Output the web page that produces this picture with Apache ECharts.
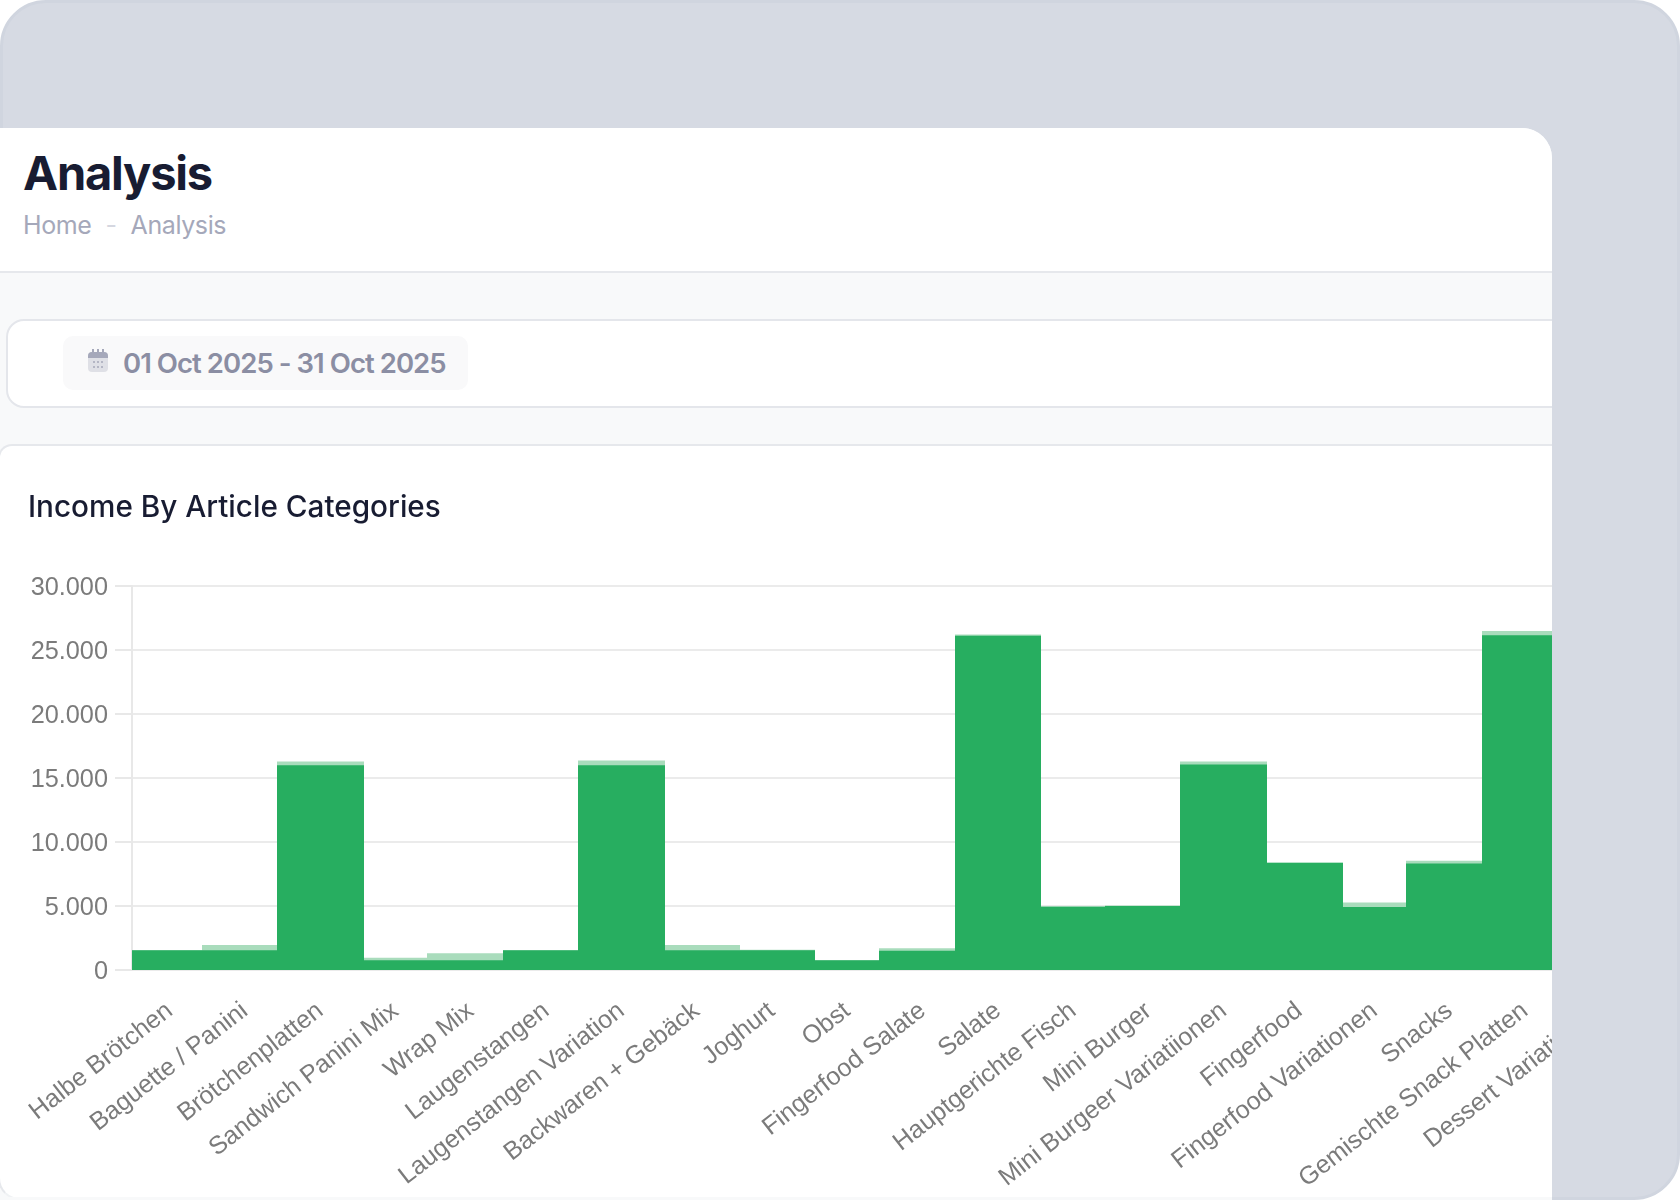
<!DOCTYPE html>
<html>
<head>
<meta charset="utf-8">
<title>Analysis</title>
<script src="https://cdn.jsdelivr.net/npm/echarts@6/dist/echarts.min.js"></script>
<style>
  html, body { margin: 0; padding: 0; background: #fff; }
  body { width: 1680px; height: 1200px; position: relative; overflow: hidden; font-family: Inter, sans-serif; }
  .frame { position: absolute; inset: 0; box-sizing: border-box; background: #d6dae3; border: 3px solid #d0d5df; border-radius: 46px; }
  .panel { position: absolute; left: 0; top: 128px; width: 1552px; height: 1072px; background: #f8f9fa; border-top-right-radius: 30px; overflow: hidden; }
  .head { position: absolute; left: 0; top: 0; right: 0; height: 143px; background: #fff; border-bottom: 2px solid #e6e8ec; }
  .title { position: absolute; left: 23px; top: 141px; font-size: 47px; line-height: 64px; font-weight: 700; letter-spacing: -1.2px; color: #181c32; }
  .crumbs { position: absolute; left: 23px; top: 208px; font-size: 25px; line-height: 34px; color: #a5a8ba; letter-spacing: -0.4px; white-space: pre; }
  .crumbs i { font-style: normal; color: #d5d7e0; margin: 0 14px; }
  .filter { position: absolute; left: 6px; top: 319px; width: 1600px; height: 89px; box-sizing: border-box; background: #fff; border: 2px solid #e4e6eb; border-radius: 18px; }
  .chip { position: absolute; left: 63px; top: 336px; width: 405px; height: 54px; background: #f9f9fa; border-radius: 10px; }
  .chip svg { position: absolute; left: 24px; top: 13px; }
  .chip span { position: absolute; left: 60px; top: 8px; font-size: 27.5px; line-height: 38px; font-weight: 600; color: #8b8ea3; letter-spacing: -0.95px; white-space: pre; }
  .card { position: absolute; left: -2px; top: 444px; width: 1640px; height: 756px; box-sizing: border-box; background: #fff; border: 2px solid #e6e8ec; border-bottom-color: #f0f2f4; border-radius: 14px 0 0 22px; }
  .clip { position: absolute; left: 0; top: 0; width: 1552px; height: 1197px; overflow: hidden; }
  #chart { position: absolute; left: 0; top: 0; width: 1680px; height: 1200px; }
</style>
</head>
<body>
<div class="frame"></div>
<div class="panel"><div class="head"></div></div>
<div class="clip">
  <div class="title">Analysis</div>
  <div class="crumbs">Home<i>-</i>Analysis</div>
  <div class="filter"></div>
  <div class="chip">
    <svg width="22" height="24" viewBox="0 0 22 24">
      <rect x="1" y="3" width="20" height="20" rx="4" fill="#dfe0e6"/>
      <path d="M1 9V7a4 4 0 0 1 4-4h12a4 4 0 0 1 4 4v2z" fill="#a5a8ba"/>
      <rect x="5" y="0" width="2" height="5" fill="#a5a8ba"/>
      <rect x="10" y="0" width="2" height="5" fill="#a5a8ba"/>
      <rect x="15" y="0" width="2" height="5" fill="#a5a8ba"/>
      <g fill="#b4b6c4">
        <rect x="6" y="12" width="2" height="2"/><rect x="10" y="12" width="2" height="2"/><rect x="14" y="12" width="2" height="2"/>
        <rect x="6" y="17" width="2" height="2"/><rect x="10" y="17" width="2" height="2"/><rect x="14" y="17" width="2" height="2"/>
      </g>
    </svg>
    <span>01 Oct 2025 - 31 Oct 2025</span>
  </div>
  <div class="card"></div>
  <div id="chart"></div>
</div>
<script>
// Income per article category for the selected month.
const categories = [
  'Halbe Brötchen', 'Baguette / Panini', 'Brötchenplatten', 'Sandwich Panini Mix', 'Wrap Mix',
  'Laugenstangen', 'Laugenstangen Variation', 'Backwaren + Gebäck', 'Joghurt', 'Obst',
  'Fingerfood Salate', 'Salate', 'Hauptgerichte Fisch', 'Mini Burger', 'Mini Burgeer Variatiionen',
  'Fingerfood', 'Fingerfood Variationen', 'Snacks', 'Gemischte Snack Platten', 'Dessert Variationen'
];
// Solid part of every column.
const baseIncome = [1540, 1540, 16000, 760, 760, 1540, 16000, 1540, 1540, 760, 1500, 26120, 4950, 5000, 16050, 8380, 4930, 8320, 26150, null];
// Full height of every column, the pale cap being the difference to baseIncome.
const totalIncome = [1540, 1960, 16290, 960, 1300, 1540, 16370, 1960, 1590, 760, 1700, 26210, 4990, 5040, 16290, 8380, 5270, 8530, 26490, null];
// Categories whose columns are drawn slimmer than the others.
const slimCategories = ['Sandwich Panini Mix', 'Obst', 'Hauptgerichte Fisch', 'Fingerfood Variationen'];

const SOLID_GREEN = '#27ae60';
const CAP_GREEN = '#a9dcbc';
const WIDE_RATIO = 1.14;
const SLIM_RATIO = 0.85;

const chart = echarts.init(document.getElementById('chart'));

function renderColumn(params, api) {
  const idx = api.value(0);
  const base = api.value(1);
  const total = api.value(2);
  const band = api.size([1, 0])[0];
  const width = band * (slimCategories.includes(categories[idx]) ? SLIM_RATIO : WIDE_RATIO);
  const zero = api.coord([idx, 0]);
  const baseTop = api.coord([idx, base]);
  const totalTop = api.coord([idx, total]);
  // Whole-pixel edges, rounded outwards, keep neighbouring columns free of seams.
  const x = Math.floor(zero[0] - width / 2);
  const w = Math.ceil(zero[0] + width / 2) - x;
  return {
    type: 'group',
    children: [
      { type: 'rect', shape: { x, y: totalTop[1], width: w, height: zero[1] - totalTop[1] }, style: { fill: CAP_GREEN } },
      { type: 'rect', shape: { x, y: baseTop[1], width: w, height: zero[1] - baseTop[1] }, style: { fill: SOLID_GREEN } }
    ]
  };
}

// Columns overlap their neighbours, so the taller ones are painted last.
const rows = categories
  .map((c, i) => [i, baseIncome[i], totalIncome[i]])
  .filter(row => row[2] !== null)
  .sort((a, b) => a[2] - b[2]);

chart.setOption({
  animation: false,
  title: {
    text: 'Income By Article Categories',
    left: 23,
    top: 484,
    textStyle: { fontFamily: 'Inter', fontSize: 29.7, fontWeight: 500, color: '#181c32', lineHeight: 38 }
  },
  grid: { left: 132, top: 586, width: 1506, height: 384, containLabel: false },
  xAxis: {
    type: 'category',
    data: categories,
    axisLine: { show: false },
    axisTick: { show: false },
    axisLabel: {
      interval: 0,
      rotate: 38,
      margin: 38,
      lineHeight: 35,
      fontFamily: 'Liberation Sans',
      fontSize: 25.2,
      color: '#7b7b7b'
    }
  },
  yAxis: {
    type: 'value',
    min: 0,
    max: 30000,
    interval: 5000,
    axisLine: { show: true, lineStyle: { color: '#e8e8e8', width: 2 } },
    axisTick: { show: true, length: 17, lineStyle: { color: '#e8e8e8', width: 2 } },
    splitLine: { lineStyle: { color: '#ebebeb', width: 2 } },
    axisLabel: {
      margin: 24,
      verticalAlign: 'top',
      lineHeight: 4,
      fontFamily: 'Liberation Sans',
      fontSize: 25.3,
      color: '#7b7b7b',
      formatter: v => String(v).replace(/\B(?=(\d{3})+$)/g, '.')
    }
  },
  series: [{
    type: 'custom',
    name: 'Income',
    clip: true,
    renderItem: renderColumn,
    encode: { x: 0, y: 2 },
    data: rows
  }]
});
</script>
</body>
</html>
